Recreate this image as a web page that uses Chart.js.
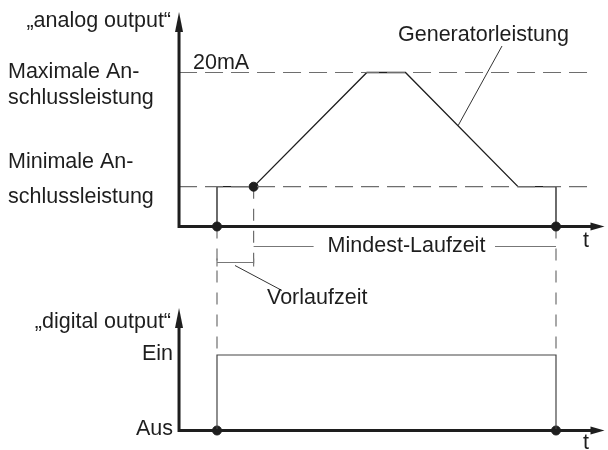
<!DOCTYPE html>
<html>
<head>
<meta charset="utf-8">
<script src="https://cdn.jsdelivr.net/npm/chart.js@4"></script>
<style>
  html, body { margin: 0; padding: 0; background: #fff; }
  #wrap { width: 608px; height: 450px; position: relative; }
</style>
</head>
<body>
<div id="wrap"><canvas id="diagramm"></canvas></div>
<script>
// Zeitpunkte (willkürliche Einheit): Start, Ende Vorlaufzeit, Rampe, Abschaltung
var rampTimes   = [0, 0, 1.08, 4.42, 5.56, 8.88, 10, 10];
var rampPower   = [0, 5.17, 5.17, 20, 20, 5.17, 5.17, 0];   // mA
var digitalTimes = [0, 0, 10, 10];
var digitalState = [0, 1, 1, 0];                             // 0 = Aus, 1 = Ein
var analogDots  = [[0, 0], [1.08, 5.17], [10, 0]];
var digitalDots = [[0, 0], [10, 0]];
var levelValues = [20, 5.17];                                // Max / Min Anschlussleistung
var levelNames  = ['Maximale An-|schlussleistung', 'Minimale An-|schlussleistung'];
var digitalTicks = ['Aus', 'Ein'];
var tAxisStart = -1.12, tAxisEnd = 11.43, tDashEnd = 11.12;

function pts(xs, ys) {
    return xs.map(function(x, i) { return { x: x, y: ys[i] }; });
}

var dashedLevels = levelValues.map(function(v) {
    return {
        data: [{ x: tAxisStart, y: v }, { x: tDashEnd, y: v }],
        yAxisID: 'yA',
        showLine: true,
        borderColor: '#6e6e6e',
        borderWidth: 1.2,
        borderDash: [18, 8],
        pointRadius: 0
    };
});

var ink = '#1e1e1e';
var font = '21.5px "Liberation Sans", Arial, sans-serif';

var beschriftung = {
    id: 'beschriftung',
    beforeDatasetsDraw: function(chart) {
        var c = chart.ctx, x = chart.scales.x, yA = chart.scales.yA, yD = chart.scales.yD;
        var axisY = yA.getPixelForValue(0);
        c.save();
        c.strokeStyle = '#6e6e6e';
        c.lineWidth = 1.2;
        c.setLineDash([12, 10]);
        // senkrechte Hilfslinien
        [0, 10].forEach(function(t) {
            var px = x.getPixelForValue(t);
            c.beginPath();
            c.moveTo(px, axisY);
            c.lineTo(px, yD.getPixelForValue(1));
            c.stroke();
        });
        var p1 = x.getPixelForValue(rampTimes[2]);
        c.beginPath();
        c.moveTo(p1, yA.getPixelForValue(rampPower[2]));
        c.lineTo(p1, axisY + 37);
        c.stroke();
        c.restore();
    },
    afterDatasetsDraw: function(chart) {
        var c = chart.ctx, x = chart.scales.x, yA = chart.scales.yA, yD = chart.scales.yD;
        var ox = x.getPixelForValue(tAxisStart);
        var ex = x.getPixelForValue(tAxisEnd);
        c.save();

        function axes(baseY, topY) {
            c.strokeStyle = ink;
            c.fillStyle = ink;
            c.lineWidth = 3;
            c.setLineDash([]);
            c.beginPath();
            c.moveTo(ox, topY + 12);
            c.lineTo(ox, baseY);
            c.lineTo(ex - 10, baseY);
            c.stroke();
            // Pfeil oben
            c.beginPath();
            c.moveTo(ox, topY);
            c.lineTo(ox - 4, topY + 20);
            c.lineTo(ox + 4, topY + 20);
            c.closePath();
            c.fill();
            // Pfeil rechts
            c.beginPath();
            c.moveTo(ex, baseY);
            c.lineTo(ex - 14, baseY - 4);
            c.lineTo(ex - 14, baseY + 4);
            c.closePath();
            c.fill();
        }
        var aBase = yA.getPixelForValue(0);
        var dBase = yD.getPixelForValue(0);
        axes(aBase, 12);
        axes(dBase, 308);

        c.fillStyle = ink;
        c.font = font;
        c.textBaseline = 'middle';

        // linke Beschriftung
        c.textAlign = 'right';
        c.fillText('\u201Eanalog output\u201C', ox - 8, 21);
        c.fillText('\u201Edigital output\u201C', ox - 8, 322);
        digitalTicks.forEach(function(lbl, i) {
            c.fillText(lbl, ox - 6, yD.getPixelForValue(i) - 1);
        });
        c.textAlign = 'left';
        levelNames.forEach(function(n, i) {
            var parts = n.split('|');
            var py = yA.getPixelForValue(levelValues[i]);
            var off = i === 0 ? [0, 26] : [-25, 10];
            c.fillText(parts[0], 8, py + off[0]);
            c.fillText(parts[1], 8, py + off[1]);
        });
        c.fillText('20mA', 193, yA.getPixelForValue(20) - 9);
        c.fillText('t', 583, aBase + 15);
        c.fillText('t', 583, dBase + 13);
        c.fillText('Generatorleistung', 398, 35);

        // Generatorleistung Hinweislinie
        var fx = 458;
        var t = x.getValueForPixel(fx);
        var yv = rampPower[4] + (t - rampTimes[4]) * (rampPower[5] - rampPower[4]) / (rampTimes[5] - rampTimes[4]);
        c.strokeStyle = '#333';
        c.lineWidth = 1;
        c.beginPath();
        c.moveTo(502, 46);
        c.lineTo(fx, yA.getPixelForValue(yv));
        c.stroke();

        // Mindest-Laufzeit
        var x0 = x.getPixelForValue(0), x1 = x.getPixelForValue(rampTimes[2]), x2 = x.getPixelForValue(10);
        var my = aBase + 20;
        c.strokeStyle = '#777';
        c.lineWidth = 1.2;
        c.beginPath();
        c.moveTo(x1, my); c.lineTo(x1 + 60, my);
        c.moveTo(x2 - 61, my); c.lineTo(x2, my);
        c.stroke();
        c.textAlign = 'left';
        c.fillText('Mindest-Laufzeit', x1 + 74, my);

        // Vorlaufzeit
        var vy = aBase + 36;
        c.beginPath();
        c.moveTo(x0, vy); c.lineTo(x1, vy);
        c.moveTo(x0, vy - 4); c.lineTo(x0, vy + 4);
        c.moveTo(x1, vy - 4); c.lineTo(x1, vy + 4);
        c.stroke();
        c.strokeStyle = '#333';
        c.lineWidth = 1;
        c.beginPath();
        c.moveTo(x0 + 18, vy + 3);
        c.lineTo(x0 + 65, vy + 28);
        c.stroke();
        c.fillText('Vorlaufzeit', 267, vy + 36);
        c.restore();
    }
};

var ctx = document.getElementById('diagramm').getContext('2d');
var chart = new Chart(ctx, {
    type: 'scatter',
    data: {
        datasets: dashedLevels.concat([
            {
                label: 'Generatorleistung',
                data: pts(rampTimes, rampPower),
                yAxisID: 'yA',
                showLine: true,
                borderColor: ink,
                borderWidth: 1.3,
                pointRadius: 0
            },
            {
                label: 'digital output',
                data: pts(digitalTimes, digitalState),
                yAxisID: 'yD',
                showLine: true,
                borderColor: '#444',
                borderWidth: 1.2,
                pointRadius: 0
            },
            {
                data: analogDots.map(function(p) { return { x: p[0], y: p[1] }; }),
                yAxisID: 'yA',
                showLine: false,
                pointRadius: 4.5,
                pointBackgroundColor: ink,
                pointBorderColor: ink
            },
            {
                data: digitalDots.map(function(p) { return { x: p[0], y: p[1] }; }),
                yAxisID: 'yD',
                showLine: false,
                pointRadius: 4.5,
                pointBackgroundColor: ink,
                pointBorderColor: ink
            }
        ])
    },
    options: {
        responsive: true,
        maintainAspectRatio: false,
        animation: false,
        clip: false,
        layout: { padding: 0, autoPadding: false },
        plugins: {
            legend: { display: false },
            tooltip: { enabled: false }
        },
        scales: {
            x: { type: 'linear', min: -6.401, max: 11.534, display: false },
            yA: { type: 'linear', position: 'left', min: -29.03, max: 29.42, display: false },
            yD: { type: 'linear', position: 'left', min: -0.258, max: 5.70, display: false }
        }
    },
    plugins: [beschriftung]
});
</script>
</body>
</html>
